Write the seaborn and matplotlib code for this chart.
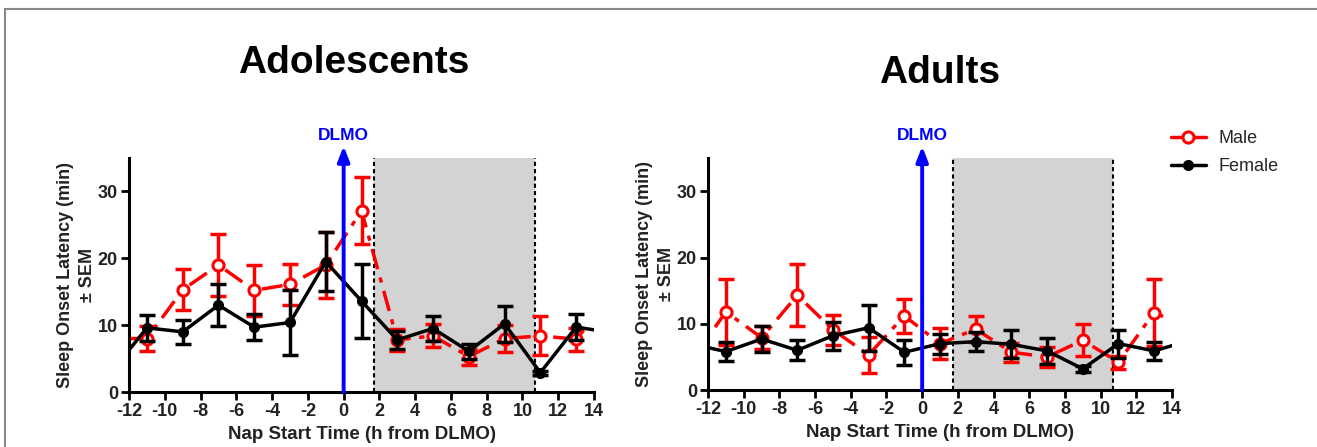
import matplotlib
matplotlib.use("Agg")
import matplotlib.pyplot as plt
from matplotlib.patches import Rectangle
from matplotlib.lines import Line2D
import pandas as pd
import seaborn as sns

# nap start times (h from DLMO)
hours = [-11, -9, -7, -5, -3, -1, 1, 3, 5, 7, 9, 11, 13]

# adolescents
adol_female = [9.6, 9.0, 13.0, 9.7, 10.4, 19.5, 13.6, 7.8, 9.5, 6.1, 10.2, 2.9, 9.7]
adol_female_sem = [1.9, 1.8, 3.2, 1.9, 4.9, 4.4, 5.5, 1.4, 1.9, 1.1, 2.7, 0.3, 1.9]
adol_male = [8.0, 15.3, 19.0, 15.2, 16.1, 19.0, 27.1, 7.8, 8.4, 5.3, 8.0, 8.4, 7.9]
adol_male_sem = [1.9, 3.1, 4.7, 3.8, 3.1, 5.0, 5.0, 1.6, 1.7, 1.2, 2.0, 2.9, 1.7]
# line ends at the axis edges
adol_female_edges = [(-12, 6.3), (14, 9.3)]
adol_male_edges = [(-12, 8.0), (13.6, 9.8)]

# adults
adult_female = [5.8, 7.7, 6.0, 8.2, 9.4, 5.7, 7.0, 7.3, 6.9, 5.9, 3.2, 7.0, 5.9]
adult_female_sem = [1.4, 1.9, 1.5, 2.1, 3.5, 1.9, 1.5, 1.4, 2.1, 2.0, 0.5, 2.1, 1.3]
adult_male = [11.8, 7.9, 14.3, 9.1, 5.3, 11.2, 7.0, 9.2, 5.7, 5.0, 7.5, 4.2, 11.7]
adult_male_sem = [5.0, 1.7, 4.7, 2.3, 2.7, 2.6, 2.3, 2.0, 1.4, 1.5, 2.4, 1.0, 5.0]
adult_female_edges = [(-12, 6.4), (14, 6.7)]
adult_male_edges = [(-11.6, 9.5), (13.5, 11.1)]

night_start, night_end = 1.7, 10.7

sns.set_style("ticks")
plt.rcParams['font.family'] = ['Liberation Sans', 'DejaVu Sans']
plt.rcParams['axes.unicode_minus'] = False

fig = plt.figure(figsize=(13.17, 4.47), dpi=100)
ax1 = fig.add_axes([0.098, 0.123, 0.353, 0.5235])
ax2 = fig.add_axes([0.5376, 0.1275, 0.3523, 0.5186])

red = '#ff0000'
male_ls = (0, (6, 2.5, 1.5, 2.5))


def with_edges(vals, edges):
    pts = [edges[0]] + list(zip(hours, vals)) + [edges[1]]
    return pd.DataFrame(pts, columns=['x', 'y'])


def panel(ax, female, female_sem, male, male_sem, fem_edges, male_edges, title, title_x, title_y):
    ax.axvspan(night_start, night_end, ymin=0, ymax=1, color='#d3d3d3', zorder=0, lw=0)
    for xv in (night_start, night_end):
        ax.axvline(xv, color='black', ls=(0, (2, 1.5)), lw=1.5, zorder=1)

    # male
    sns.lineplot(data=with_edges(male, male_edges), x='x', y='y', ax=ax, color=red,
                 lw=2.5, linestyle=male_ls, zorder=2, sort=False)
    ax.errorbar(hours, male, yerr=male_sem, fmt='none', ecolor=red, elinewidth=2.5,
                capsize=6, capthick=2.5, zorder=3)
    ax.plot(hours, male, 'o', ms=8, mfc='white', mec=red, mew=2.2, zorder=4)

    # female
    sns.lineplot(data=with_edges(female, fem_edges), x='x', y='y', ax=ax, color='black',
                 lw=2.5, zorder=5, sort=False)
    ax.errorbar(hours, female, yerr=female_sem, fmt='none', ecolor='black', elinewidth=2.5,
                capsize=6, capthick=2.5, zorder=6)
    ax.plot(hours, female, 'o', ms=7, color='black', zorder=7)

    # DLMO arrow
    ax.annotate('', xy=(0, 36.8), xytext=(0, 0), annotation_clip=False,
                arrowprops=dict(arrowstyle='-|>,head_width=0.35,head_length=0.9',
                                color='#0000ff', lw=2.8, shrinkA=0, shrinkB=0), zorder=8)
    ax.text(0, 37.3, 'DLMO', color='#0000ff', fontsize=12.5, fontweight='bold',
            ha='center', va='bottom', clip_on=False)

    ax.set_xlim(-12, 14)
    ax.set_ylim(0, 35)
    ax.set_xticks(range(-12, 15, 2))
    ax.set_yticks([0, 10, 20, 30])
    ax.set_xlabel('Nap Start Time (h from DLMO)', fontsize=13.5, fontweight='bold',
                  color='#222222', labelpad=4)
    ax.set_ylabel('Sleep Onset Latency (min)\n\u00b1 SEM', fontsize=13,
                  fontweight='bold', color='#222222', labelpad=1, linespacing=1.45)
    ax.tick_params(axis='both', direction='out', width=2, length=6, labelsize=13,
                   colors='black', pad=2)
    for lab in ax.get_xticklabels() + ax.get_yticklabels():
        lab.set_fontweight('bold')
        lab.set_color('#222222')
    sns.despine(ax=ax)
    for s in ('left', 'bottom'):
        ax.spines[s].set_linewidth(2.2)
        ax.spines[s].set_color('black')
    fig.text(title_x, title_y, title, color='black',
             fontsize=28, fontweight='bold', ha='center', va='center')


panel(ax1, adol_female, adol_female_sem, adol_male, adol_male_sem,
      adol_female_edges, adol_male_edges, 'Adolescents', 354 / 1317, 1 - 63 / 447)
panel(ax2, adult_female, adult_female_sem, adult_male, adult_male_sem,
      adult_female_edges, adult_male_edges, 'Adults', 940 / 1317, 1 - 73 / 447)

# legend
handles = [
    Line2D([], [], color=red, lw=2.5, marker='o', ms=8, mfc='white', mec=red, mew=2.2),
    Line2D([], [], color='black', lw=2.5, marker='o', ms=7),
]
fig.legend(handles, ['Male', 'Female'], loc='upper left', bbox_to_anchor=(0.877, 0.745),
           frameon=False, fontsize=13, handlelength=1.9, handletextpad=0.7,
           labelspacing=0.6)

# outer frame
fig.patches.append(Rectangle((5 / 1317, -0.2), 1.2, 1.2 - 9 / 447,
                             transform=fig.transFigure, fill=False,
                             edgecolor='#888888', lw=1.5))

fig.savefig('out.png', dpi=100)
